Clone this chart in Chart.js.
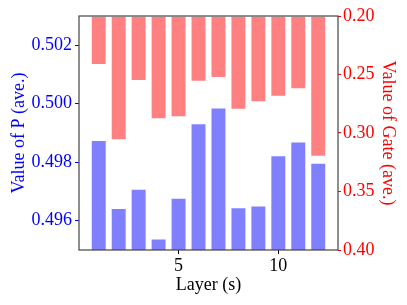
<!DOCTYPE html>
<html>
<head>
<meta charset="utf-8">
<script src="https://cdn.jsdelivr.net/npm/chart.js@4.4.1/dist/chart.umd.min.js"></script>
<style>
  html, body { margin: 0; padding: 0; background: #fff; }
  #wrap { width: 407px; height: 305px; }
</style>
</head>
<body>
<div id="wrap"><canvas id="myChart" width="407" height="305"></canvas></div>
<script>
// data
const layers = [1, 2, 3, 4, 5, 6, 7, 8, 9, 10, 11, 12];
const pValues = [0.49876, 0.49644, 0.49709, 0.49539, 0.49679, 0.49933, 0.49987, 0.49646, 0.49652, 0.49824, 0.49871, 0.49798];
const gateValues = [0.2419, 0.3063, 0.2556, 0.2883, 0.2866, 0.2561, 0.2530, 0.2801, 0.2738, 0.2690, 0.2627, 0.3203];
const xTicks = [5, 10];
const pTicks = [0.496, 0.498, 0.500, 0.502];
const gateTicks = [0.20, 0.25, 0.30, 0.35, 0.40];

const font = "'Liberation Serif', 'Times New Roman', serif";

// box around the plot area
const frame = {
  id: 'frame',
  afterDatasetsDraw(chart) {
    const a = chart.chartArea;
    const c = chart.ctx;
    c.save();
    c.strokeStyle = '#444';
    c.lineWidth = 1.2;
    c.strokeRect(a.left, a.top, a.right - a.left, a.bottom - a.top);
    c.restore();
  }
};

const ctx = document.getElementById('myChart').getContext('2d');

new Chart(ctx, {
  type: 'bar',
  data: {
    datasets: [
      {
        label: 'P',
        data: layers.map((l, i) => ({ x: l, y: pValues[i] })),
        yAxisID: 'yP',
        base: 0.495,
        backgroundColor: '#8080ff',
        borderColor: '#ffffff',
        borderWidth: 1,
        barPercentage: 0.8,
        categoryPercentage: 1.0
      },
      {
        label: 'Gate',
        data: layers.map((l, i) => ({ x: l, y: gateValues[i] })),
        yAxisID: 'yG',
        base: 0.20,
        backgroundColor: '#ff8080',
        borderColor: '#ffffff',
        borderWidth: 1,
        barPercentage: 0.8,
        categoryPercentage: 1.0
      }
    ]
  },
  options: {
    responsive: false,
    animation: false,
    layout: { padding: { left: 4, right: 4, top: 16, bottom: 5 } },
    plugins: { legend: { display: false }, tooltip: { enabled: false } },
    datasets: { bar: { grouped: false } },
    scales: {
      x: {
        type: 'linear',
        min: 0.01,
        max: 12.99,
        offset: false,
        afterBuildTicks: s => { s.ticks = xTicks.map(v => ({ value: v })); },
        afterFit: s => { s.height = 50; },
        grid: { offset: false, drawOnChartArea: false, tickLength: 4, tickColor: '#000' },
        border: { display: false },
        ticks: { color: '#000', font: { family: font, size: 18 }, padding: 1, maxRotation: 0 },
        title: { display: true, text: 'Layer (s)', color: '#000', font: { family: font, size: 18 }, padding: { top: 0, bottom: 4 } }
      },
      yP: {
        position: 'left',
        min: 0.495,
        max: 0.503,
        afterBuildTicks: s => { s.ticks = pTicks.map(v => ({ value: v })); },
        afterFit: s => { s.width = 75; },
        grid: { drawOnChartArea: false, tickLength: 4, tickColor: '#0000ff' },
        border: { display: false },
        ticks: { color: '#0000ff', font: { family: font, size: 18 }, padding: 3, callback: v => v.toFixed(3) },
        title: { display: true, text: 'Value of P (ave.)', color: '#0000ff', font: { family: font, size: 18 } }
      },
      yG: {
        position: 'right',
        reverse: true,
        min: 0.20,
        max: 0.40,
        afterBuildTicks: s => { s.ticks = gateTicks.map(v => ({ value: v })); },
        afterFit: s => { s.width = 65; },
        grid: { drawOnChartArea: false, tickLength: 3, tickColor: '#ff0000' },
        border: { display: false },
        ticks: { color: '#ff0000', font: { family: font, size: 18 }, padding: 2, callback: v => v.toFixed(2) },
        title: { display: true, text: 'Value of Gate (ave.)', color: '#ff0000', font: { family: font, size: 18 } }
      }
    }
  },
  plugins: [frame]
});
</script>
</body>
</html>
